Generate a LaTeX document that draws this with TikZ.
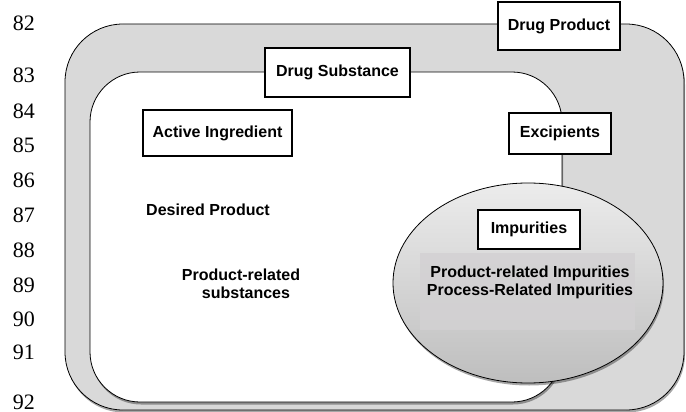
\documentclass[tikz,border=0pt]{standalone}
\usepackage{fontspec}
\setmainfont{Liberation Serif}
\newfontfamily\lblfont{Liberation Sans}
\usetikzlibrary{shadows}
\definecolor{outerfill}{HTML}{D9D9D9}
\definecolor{ellTop}{HTML}{ECECEC}
\definecolor{ellBot}{HTML}{BEBEBE}
\definecolor{txtbg}{HTML}{D3D1D3}
\tikzset{
  lbl/.style={font=\lblfont\bfseries\fontsize{16}{18}\selectfont},
  labelbox/.style={lbl, draw=black, line width=1.6pt, fill=white, inner sep=0pt, align=center},
  plain/.style={lbl, inner sep=0pt, align=center},
  linenum/.style={font=\fontsize{22}{24}\selectfont, anchor=base east, inner sep=0pt},
  softshadow/.style={drop shadow={shadow xshift=1pt, shadow yshift=-2.5pt, opacity=0.35, fill=black}}
}
\begin{document}
\begin{tikzpicture}[x=1pt,y=-1pt]
\path[use as bounding box] (0,0) rectangle (686,412);
% line numbers
\foreach \n/\yy in {82/31,83/83,84/118,85/152,86/187,87/222,88/257,89/292,90/326,91/359,92/409}
  \node[linenum] (ln\n) at (35,\yy) {\n};
% Drug product region
\draw[fill=outerfill, line width=0.8pt, rounded corners=58pt, softshadow] (65,24) rectangle (684,410);
% Drug substance region
\draw[fill=white, line width=0.8pt, rounded corners=50pt, softshadow] (90,72) rectangle (562,402);
% Impurities ellipse
\draw[top color=ellTop, bottom color=ellBot, line width=0.8pt, softshadow] (528,283) ellipse [x radius=135, y radius=100];
\fill[txtbg, opacity=0.85] (420,253) rectangle (635,330);
% boxes
\node[labelbox, minimum width=122pt, minimum height=48pt] (dp) at (559,26) {Drug Product};
\node[labelbox, minimum width=145pt, minimum height=49pt] (ds) at (337.5,72.5) {Drug Substance};
\node[labelbox, minimum width=149pt, minimum height=46pt] (ai) at (217.5,133) {Active Ingredient};
\node[labelbox, minimum width=102pt, minimum height=41pt] (ex) at (560,133.5) {Excipients};
\node[labelbox, minimum width=102pt, minimum height=39pt] (im) at (529,229.5) {Impurities};
% texts
\node[plain] (dsp) at (208,210) {Desired Product};
\node[plain] (prs) at (241,284) {Product-related\\\hspace*{10pt}substances};
\node[plain] (pri) at (530,282) {Product-related Impurities\\Process-Related Impurities};
\end{tikzpicture}
\end{document}
